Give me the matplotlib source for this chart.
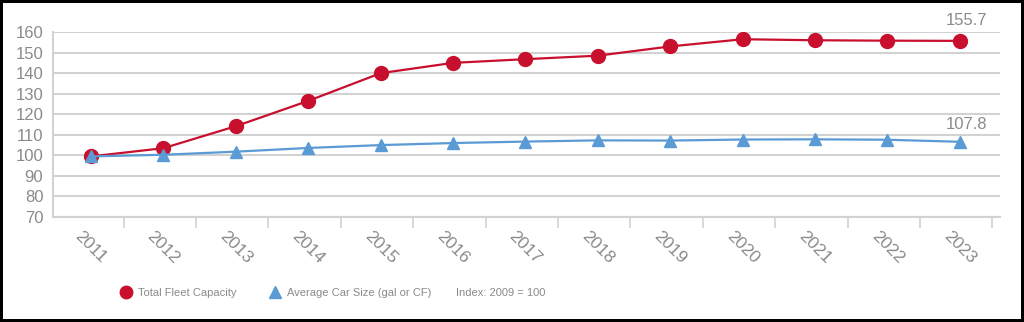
import matplotlib.pyplot as plt
from matplotlib.lines import Line2D

years = ['2011', '2012', '2013', '2014', '2015', '2016', '2017',
         '2018', '2019', '2020', '2021', '2022', '2023']
fleet_capacity = [99.5, 103.5, 114.2, 126.5, 140.0, 145.0, 146.8,
                  148.5, 153.0, 156.5, 156.0, 155.8, 155.7]
car_size = [99.5, 100.3, 101.8, 103.6, 105.0, 106.0, 106.7,
            107.3, 107.2, 107.7, 107.8, 107.6, 106.6]
end_labels = ['155.7', '107.8']

RED = '#c8102e'
BLUE = '#5b9bd5'
GREY = '#8a8a8a'
GRID = '#d2d2d2'

plt.rcParams['font.family'] = ['Liberation Sans', 'DejaVu Sans']

fig = plt.figure(figsize=(10.24, 3.22), dpi=100, linewidth=3, edgecolor='black')
ax = fig.add_axes([0.0518, 0.326, 0.9248, 0.5745])

x = list(range(len(years)))
ax.plot(x, fleet_capacity, color=RED, lw=1.6, marker='o', ms=10,
        label='Total Fleet Capacity', zorder=3)
ax.plot(x, car_size, color=BLUE, lw=1.6, marker='^', ms=8.5,
        label='Average Car Size (gal or CF)', zorder=3)

ax.set_ylim(70, 160)
ax.set_xlim(-0.525, 12.555)
ax.set_yticks(range(70, 161, 10))
ax.grid(axis='y', color=GRID, lw=1.5)
ax.set_axisbelow(True)

ax.set_xticks(x)
ax.set_xticklabels(years, rotation=-45, ha='center', va='top')
ax.set_xticks([i + 0.45 for i in x], minor=True)
ax.tick_params(axis='x', which='major', length=0, pad=8, labelsize=12.5, labelcolor=GREY)
ax.tick_params(axis='x', which='minor', length=8, width=1.2, color=GRID)
ax.tick_params(axis='y', length=0, pad=7, labelsize=12, labelcolor=GREY)

for side in ['top', 'right']:
    ax.spines[side].set_visible(False)
for side in ['left', 'bottom']:
    ax.spines[side].set_color(GRID)
    ax.spines[side].set_linewidth(1.5)

ax.annotate(end_labels[0], (x[-1], fleet_capacity[-1]), xytext=(5, 15),
            textcoords='offset points', ha='center', va='center',
            fontsize=12, color=GREY)
ax.annotate(end_labels[1], (x[-1], car_size[-1]), xytext=(5, 12.6),
            textcoords='offset points', ha='center', va='center',
            fontsize=12, color=GREY)

handles = [
    Line2D([], [], color=RED, marker='o', ls='none', ms=9),
    Line2D([], [], color=BLUE, marker='^', ls='none', ms=8.5),
]
fig.legend(handles, ['Total Fleet Capacity', 'Average Car Size (gal or CF)'],
           loc='center left', bbox_to_anchor=(0.108, 0.09), ncol=2,
           frameon=False, fontsize=8, labelcolor=GREY,
           handlelength=1.0, handletextpad=0.55, columnspacing=3.0)
fig.text(0.445, 0.09, 'Index: 2009 = 100', fontsize=8, color=GREY,
         va='center', ha='left')

fig.savefig('out.png', dpi=100)
